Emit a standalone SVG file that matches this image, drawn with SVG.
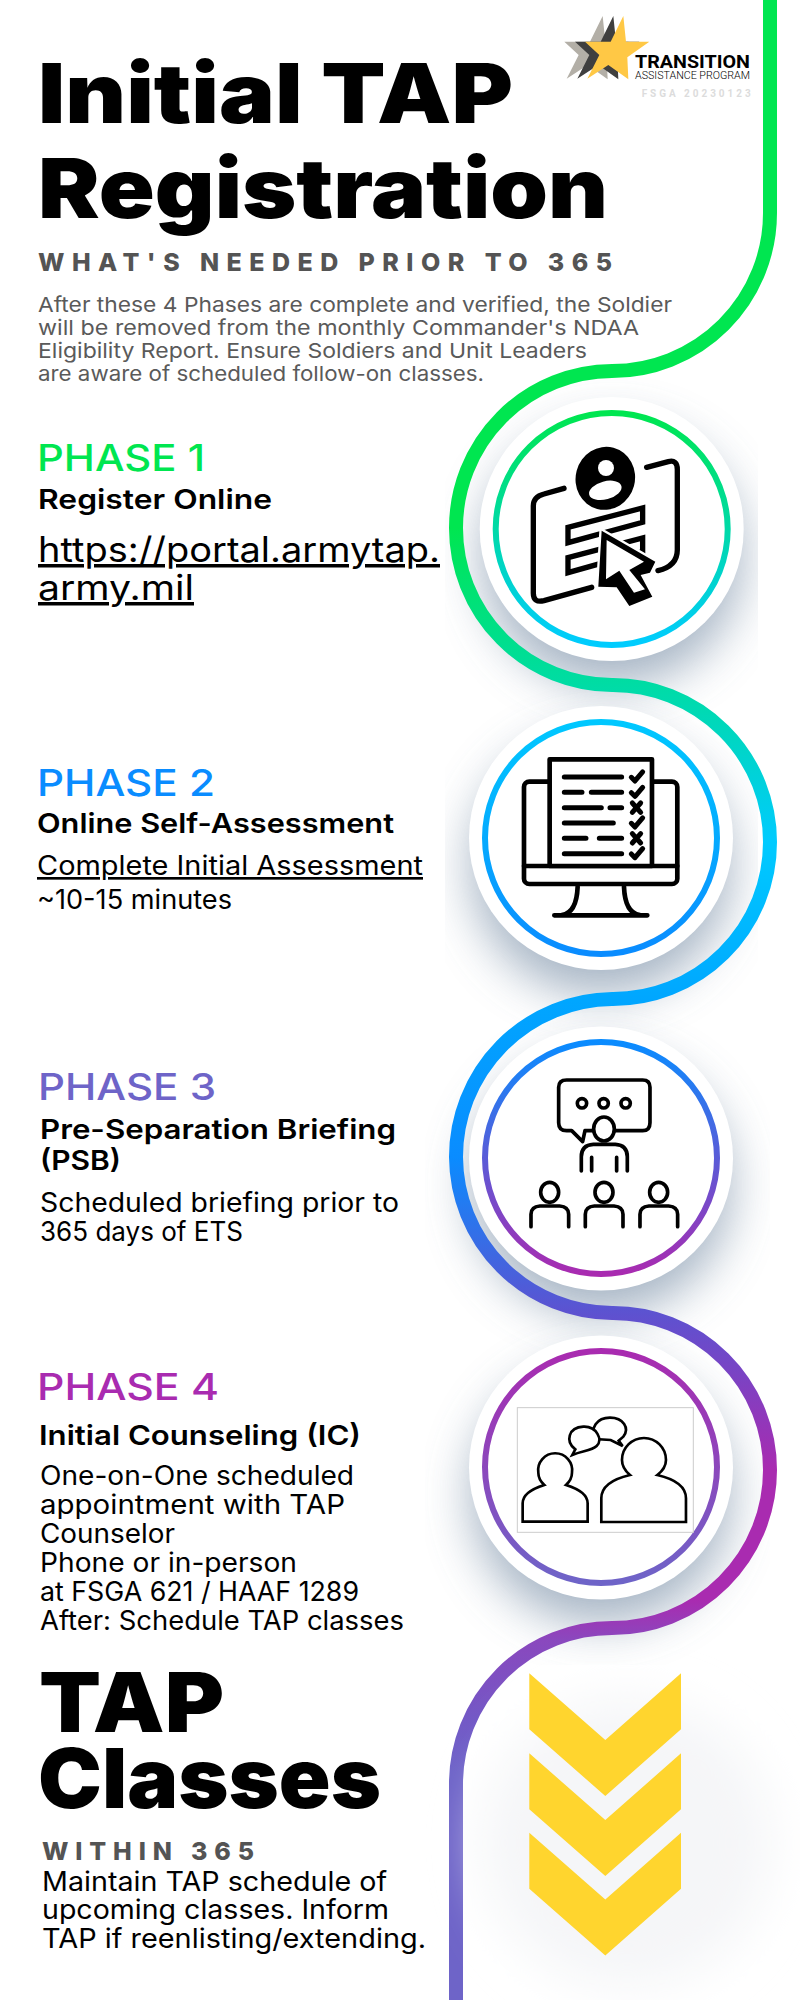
<svg xmlns="http://www.w3.org/2000/svg" width="800" height="2000" viewBox="0 0 800 2000">
<style>
text{font-family:"Inter","Liberation Sans",sans-serif;fill:#000}
.title{font-size:83px;font-weight:900}
.sub{font-size:25px;font-weight:800;fill:#545454}
.para{font-size:20.5px;font-weight:400;fill:#5a5a5a}
.phase{font-size:37px;font-weight:550}
.head{font-size:27.5px;font-weight:600}
.body{font-size:26.5px;font-weight:400}
.link{font-size:35px;font-weight:400;text-decoration:underline}
.ic{fill:none;stroke:#000;stroke-linecap:round;stroke-linejoin:round}
.ring{fill:none;stroke-width:6}
.disc{fill:#fff}
.shadow{fill:#8fa1b5;opacity:.8;filter:url(#blur)}
.chev{fill:#ffd52e}
</style>
<defs>
<filter id="blur" x="-40%" y="-40%" width="180%" height="180%"><feGaussianBlur stdDeviation="24"/></filter>
<linearGradient id="spine" gradientUnits="userSpaceOnUse" x1="0" y1="0" x2="0" y2="2000">
<stop offset="0.264" stop-color="#00e650"/><stop offset="0.3425" stop-color="#00dca5"/><stop offset="0.421" stop-color="#00cbff"/><stop offset="0.5" stop-color="#00a6ff"/><stop offset="0.5785" stop-color="#0a8cff"/><stop offset="0.6565" stop-color="#5d52d0"/><stop offset="0.735" stop-color="#a92bb0"/><stop offset="0.8" stop-color="#a92bb0"/><stop offset="0.82" stop-color="#8a48be"/><stop offset="0.86" stop-color="#7258c6"/><stop offset="0.8865" stop-color="#6e64c8"/>
</linearGradient>
<linearGradient id="r1" x1="0" y1="0" x2="0" y2="1"><stop offset="0" stop-color="#00e650"/><stop offset="1" stop-color="#00ccff"/></linearGradient>
<linearGradient id="r2" x1="0" y1="0" x2="0" y2="1"><stop offset="0" stop-color="#00c8ff"/><stop offset="1" stop-color="#0a8cff"/></linearGradient>
<linearGradient id="r3" x1="0" y1="0" x2="0" y2="1"><stop offset="0" stop-color="#0a8cff"/><stop offset="1" stop-color="#a92bb0"/></linearGradient>
<linearGradient id="r4" x1="0" y1="0" x2="0" y2="1"><stop offset="0" stop-color="#a92bb0"/><stop offset="1" stop-color="#6e64c8"/></linearGradient>
<clipPath id="c1"><rect x="445" y="331" width="313" height="396"/></clipPath>
<clipPath id="c2"><rect x="445" y="640" width="313" height="396"/></clipPath>
<clipPath id="c3"><rect x="425" y="960" width="345" height="396"/></clipPath>
<clipPath id="c4"><rect x="425" y="1270" width="345" height="395"/></clipPath>
<polygon id="star" points="250,48 258,125 328,125 262,172 265,238 205,195 142,236 178,165 135,125 212,125"/>
<path id="chevron" d="M529.3 0L605.3 66.7L681 0V56L605.3 122.7L529.3 56Z"/>
</defs>
<rect width="800" height="2000" fill="#fff"/>

<g id="shadows">
<g clip-path="url(#c1)"><circle class="shadow" cx="612" cy="556" r="130"/></g>
<g clip-path="url(#c2)"><circle class="shadow" cx="601" cy="865" r="130"/></g>
<g clip-path="url(#c3)"><circle class="shadow" cx="601" cy="1185" r="130"/></g>
<g clip-path="url(#c4)"><circle class="shadow" cx="601" cy="1494" r="130"/></g>
</g>

<g id="connectors">
<path d="M770 0V213A158 158 0 0 1 612 371A157 157 0 0 0 456 528A157 157 0 0 0 612 685A157 157 0 0 1 770 842A157 157 0 0 1 612 999A158 158 0 0 0 456 1157A157 157 0 0 0 612 1313A157 157 0 0 1 770 1470A158 158 0 0 1 612 1628A156 156 0 0 0 456 1784V2000" fill="none" stroke="url(#spine)" stroke-width="14"/>
</g>

<g id="header">
<text class="title" x="38" y="123" textLength="475" lengthAdjust="spacingAndGlyphs">Initial TAP</text>
<text class="title" x="38" y="218" textLength="570" lengthAdjust="spacingAndGlyphs">Registration</text>
<text class="sub" x="38" y="271" textLength="574" lengthAdjust="spacing">WHAT'S NEEDED PRIOR TO 365</text>
<text class="para" x="38" y="312" textLength="634" lengthAdjust="spacingAndGlyphs">After these 4 Phases are complete and verified, the Soldier</text>
<text class="para" x="38" y="335" textLength="601" lengthAdjust="spacingAndGlyphs">will be removed from the monthly Commander's NDAA</text>
<text class="para" x="38" y="358" textLength="549" lengthAdjust="spacingAndGlyphs">Eligibility Report. Ensure Soldiers and Unit Leaders</text>
<text class="para" x="38" y="381" textLength="446" lengthAdjust="spacingAndGlyphs">are aware of scheduled follow-on classes.</text>
</g>

<g id="logo" transform="translate(540 0) scale(.3333)">
<use href="#star" x="-62" fill="#b3afa7"/>
<use href="#star" x="-30" fill="#3f3f3f"/>
<use href="#star" fill="#ffc845"/>
<text x="285" y="205" font-size="57" font-weight="700" style="font-family:Roboto,sans-serif" textLength="345" lengthAdjust="spacingAndGlyphs">TRANSITION</text>
<text x="285" y="238" font-size="33" font-weight="300" style="font-family:Roboto,sans-serif" textLength="345" lengthAdjust="spacingAndGlyphs">ASSISTANCE PROGRAM</text>
<text x="305" y="290" font-size="30" font-weight="700" style="font-family:Roboto,sans-serif;fill:#dcdcdc" textLength="327" lengthAdjust="spacing">FSGA 20230123</text>
</g>

<g id="phase1">
<text class="phase" x="37" y="471" style="fill:#00e650" textLength="168" lengthAdjust="spacingAndGlyphs">PHASE 1</text>
<text class="head" x="38" y="509" textLength="234" lengthAdjust="spacingAndGlyphs">Register Online</text>
<text class="link" x="38" y="562" textLength="402" lengthAdjust="spacingAndGlyphs">https://portal.armytap.</text>
<text class="link" x="38" y="600" textLength="156" lengthAdjust="spacingAndGlyphs">army.mil</text>
<circle class="disc" cx="611.7" cy="529" r="132"/>
<circle class="ring" cx="611.7" cy="529" r="116" stroke="url(#r1)"/>
<g transform="translate(420 380) scale(.3333)">
<g class="ic" stroke-width="16">
<path d="M432 325L372 342Q340 350 340 378V640Q340 670 372 662L515 622"/>
<path d="M680 262L745 245Q772 238 772 268V510Q772 558 714 572"/>
<path d="M444 442L668 384V427L444 488Z" style="fill:#fff;stroke-linejoin:miter"/>
<path d="M444 533L668 474V515L444 578Z" style="fill:#fff;stroke-linejoin:miter"/>
</g>
<ellipse cx="556" cy="295" rx="89" ry="95" transform="rotate(15 556 295)"/>
<circle cx="558" cy="264" r="24" fill="#fff"/>
<ellipse cx="556" cy="331" rx="50" ry="27" transform="rotate(-15 556 331)" fill="#fff"/>
<path d="M545 452L706 545L690 578L662 585L697 650L628 678L590 622L535 620Z" stroke="#fff" stroke-width="14" style="paint-order:stroke"/>
<path d="M560 480L672 545L628 570L675 628L642 638L598 572L558 598Z" fill="#fff"/>
</g>
</g>

<g id="phase2">
<text class="phase" x="37" y="796" style="fill:#0a8cff" textLength="178" lengthAdjust="spacingAndGlyphs">PHASE 2</text>
<text class="head" x="37" y="833" textLength="357" lengthAdjust="spacingAndGlyphs">Online Self-Assessment</text>
<text class="body" x="37" y="875" text-decoration="underline" textLength="386" lengthAdjust="spacingAndGlyphs">Complete Initial Assessment</text>
<text class="body" x="37" y="909" textLength="195" lengthAdjust="spacingAndGlyphs">~10-15 minutes</text>
<circle class="disc" cx="601" cy="838" r="132"/>
<circle class="ring" cx="601" cy="838" r="116" stroke="url(#r2)"/>
<g transform="translate(420 680) scale(.3333)">
<g class="ic" stroke-width="14">
<rect x="312" y="305" width="460" height="307" rx="16"/>
<path d="M312 558H772"/>
<rect x="389" y="238" width="307" height="320" style="fill:#fff"/>
<path d="M473 620Q470 700 425 705M612 620Q615 700 660 705M403 706H682"/>
</g>
<g class="ic" stroke-width="15">
<path d="M433 291H605M433 337H486M514 337H605M433 383H544M570 383H605M433 429H580M433 475H498M538 475H605M433 521H605"/>
<path d="M634 292L645 303L668 276M634 338L645 349L668 322M634 430L645 441L668 414M634 522L645 533L668 506"/>
<path d="M637 369L662 397M662 369L637 397M637 461L662 489M662 461L637 489"/>
</g>
</g>
</g>

<g id="phase3">
<text class="phase" x="38" y="1100" style="fill:#6e64c8" textLength="178" lengthAdjust="spacingAndGlyphs">PHASE 3</text>
<text class="head" x="40" y="1139" textLength="356" lengthAdjust="spacingAndGlyphs">Pre-Separation Briefing</text>
<text class="head" x="40" y="1170" textLength="81" lengthAdjust="spacingAndGlyphs">(PSB)</text>
<text class="body" x="40" y="1212" textLength="359" lengthAdjust="spacingAndGlyphs">Scheduled briefing prior to</text>
<text class="body" x="40" y="1241" textLength="203" lengthAdjust="spacingAndGlyphs">365 days of ETS</text>
<circle class="disc" cx="601" cy="1158.5" r="132"/>
<circle class="ring" cx="601" cy="1158" r="116" stroke="url(#r3)"/>
<g transform="translate(420 1000) scale(.3333)">
<g class="ic" stroke-width="11">
<path d="M518 392H495L488 425L455 392H440Q416 392 416 368V262Q416 240 440 240H668Q690 240 690 262V368Q690 392 668 392H585"/>
<circle cx="486" cy="310" r="14"/><circle cx="551" cy="310" r="14"/><circle cx="617" cy="310" r="14"/>
<ellipse cx="552" cy="387" rx="31" ry="36"/>
<path d="M484 513V470Q484 435 520 433H586Q622 435 622 470V513M515 472V513M590 472V513"/>
<ellipse cx="389" cy="577" rx="27" ry="30"/><ellipse cx="552" cy="577" rx="27" ry="30"/><ellipse cx="716" cy="577" rx="27" ry="30"/>
<path d="M333 680V643Q333 620 360 618H419Q446 620 446 643V680M496 680V643Q496 620 523 618H582Q609 620 609 643V680M660 680V643Q660 620 687 618H746Q773 620 773 643V680"/>
</g>
</g>
</g>

<g id="phase4">
<text class="phase" x="37" y="1400" style="fill:#a92bb0" textLength="182" lengthAdjust="spacingAndGlyphs">PHASE 4</text>
<text class="head" x="39" y="1445" textLength="322" lengthAdjust="spacingAndGlyphs">Initial Counseling (IC)</text>
<text class="body" x="40" y="1485" textLength="314" lengthAdjust="spacingAndGlyphs">One-on-One scheduled</text>
<text class="body" x="40" y="1514" textLength="305" lengthAdjust="spacingAndGlyphs">appointment with TAP</text>
<text class="body" x="40" y="1543" textLength="135" lengthAdjust="spacingAndGlyphs">Counselor</text>
<text class="body" x="40" y="1572" textLength="257" lengthAdjust="spacingAndGlyphs">Phone or in-person</text>
<text class="body" x="40" y="1601" textLength="319" lengthAdjust="spacingAndGlyphs">at FSGA 621 / HAAF 1289</text>
<text class="body" x="40" y="1630" textLength="364" lengthAdjust="spacingAndGlyphs">After: Schedule TAP classes</text>
<circle class="disc" cx="601" cy="1467.5" r="132"/>
<circle class="ring" cx="601" cy="1467" r="116" stroke="url(#r4)"/>
<g transform="translate(420 1320) scale(.3333)">
<rect x="292" y="263" width="528" height="374" fill="#fff" stroke="#ccc" stroke-width="3"/>
<g class="ic" stroke-width="8" style="stroke-linejoin:miter">
<path d="M308 605H503V550Q503 515 438 495Q456 478 456 458A51 51 0 1 0 355 458Q355 478 373 495Q308 515 308 550Z"/>
<path d="M544 606H798V535Q798 485 712 465Q738 445 738 420A66 66 0 1 0 606 420Q606 445 630 465Q544 485 544 535Z"/>
<path d="M525 357C510 325 530 293 570 293C610 293 630 325 610 350L596 362L608 378L572 360Z" style="fill:#fff"/>
<path d="M466 388C435 365 445 322 490 320C530 318 550 360 530 378C515 392 490 392 457 405Z" style="fill:#fff"/>
</g>
</g>
</g>

<g id="tap-classes">
<circle cx="627" cy="1843" r="145" fill="#f5f6f8" filter="url(#blur)"/>
<use href="#chevron" y="1673.3" class="chev"/>
<use href="#chevron" y="1753.3" class="chev"/>
<use href="#chevron" y="1832.7" class="chev"/>
<text class="title" x="39" y="1732" textLength="185" lengthAdjust="spacingAndGlyphs">TAP</text>
<text class="title" x="38" y="1808" textLength="343" lengthAdjust="spacingAndGlyphs">Classes</text>
<text class="sub" x="42" y="1860" textLength="212" lengthAdjust="spacing">WITHIN 365</text>
<text class="body" x="42" y="1891" textLength="345" lengthAdjust="spacingAndGlyphs">Maintain TAP schedule of</text>
<text class="body" x="42" y="1919" textLength="347" lengthAdjust="spacingAndGlyphs">upcoming classes. Inform</text>
<text class="body" x="42" y="1948" textLength="384" lengthAdjust="spacingAndGlyphs">TAP if reenlisting/extending.</text>
</g>
</svg>
